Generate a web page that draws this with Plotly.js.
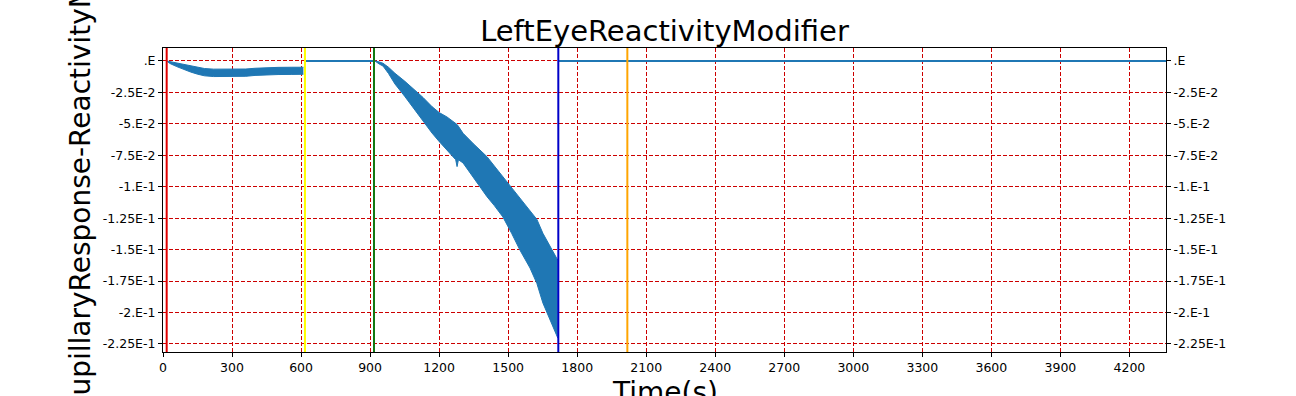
<!DOCTYPE html>
<html>
<head>
<meta charset="utf-8">
<script src="https://cdn.plot.ly/plotly-3.0.1.min.js"></script>
<style>html,body{margin:0;padding:0;background:#fff;}#chart{width:1296px;height:396px;}</style>
</head>
<body>
<div id="chart"></div>
<script>
// ---- data ----
const band1Time  = [16, 30, 60, 90, 120, 150, 180, 220, 300, 360, 400, 450, 500, 560, 610];
const band1Upper = [0, -0.0005, -0.0015, -0.0028, -0.0042, -0.0052, -0.006, -0.0065, -0.0066, -0.0064, -0.0058, -0.0052, -0.0051, -0.005, -0.005];
const band1Lower = [0, -0.002, -0.0045, -0.0068, -0.0088, -0.0105, -0.0118, -0.0124, -0.0125, -0.0122, -0.0115, -0.011, -0.0108, -0.0107, -0.0106];

const band2Time  = [917, 921, 940, 956, 980, 1008, 1050, 1095, 1130, 1169, 1200, 1234, 1260, 1272, 1278, 1284, 1304, 1350, 1408, 1440, 1477, 1515, 1551, 1595, 1625, 1651, 1680, 1712, 1716];
const band2Upper = [0, 0, -0.0008, -0.0018, -0.005, -0.0098, -0.016, -0.0231, -0.029, -0.0363, -0.041, -0.0445, -0.0482, -0.0495, -0.0505, -0.052, -0.0575, -0.066, -0.0761, -0.0835, -0.0920, -0.1005, -0.1091, -0.1185, -0.126, -0.1370, -0.147, -0.1582, -0.1585];
const band2Lower = [0, 0, -0.0025, -0.0040, -0.010, -0.0183, -0.028, -0.0390, -0.048, -0.0573, -0.064, -0.0707, -0.0761, -0.0785, -0.0840, -0.0785, -0.0811, -0.093, -0.1079, -0.115, -0.1240, -0.137, -0.1503, -0.1646, -0.177, -0.1924, -0.205, -0.2194, -0.2204];

const flat1Time = [617, 917];
const flat1Value = [0, 0];
const flat2Time = [1718, 4360];
const flat2Value = [0, 0];

const eventTimes  = [16, 617, 917, 1718, 2018];
const eventColors = ['#e00000', '#ffff00', '#137a13', '#0000c8', '#ffa500'];

const xTickVals = [0, 300, 600, 900, 1200, 1500, 1800, 2100, 2400, 2700, 3000, 3300, 3600, 3900, 4200];
const yTickVals = [0, -0.025, -0.05, -0.075, -0.1, -0.125, -0.15, -0.175, -0.2, -0.225];
const yTickText = ['.E', '-2.5E-2', '-5.E-2', '-7.5E-2', '-1.E-1', '-1.25E-1', '-1.5E-1', '-1.75E-1', '-2.E-1', '-2.25E-1'];

const titleText = 'LeftEyeReactivityModifier';
const xTitle = 'Time(s)';
const yTitle = 'PupillaryResponse-ReactivityModifier';

// ---- chart ----
const blue = '#1f77b4';
const FONT = 'DejaVu Sans, sans-serif';
function band(t, up, lo) {
  return [
    {x: t, y: lo, mode: 'lines', line: {color: blue, width: 1}, hoverinfo: 'skip', showlegend: false},
    {x: t, y: up, mode: 'lines', fill: 'tonexty', fillcolor: blue, line: {color: blue, width: 1}, hoverinfo: 'skip', showlegend: false}
  ];
}
const traces = [
  ...band(band1Time, band1Upper, band1Lower),
  {x: flat1Time, y: flat1Value, mode: 'lines', line: {color: blue, width: 2}, showlegend: false},
  ...band(band2Time, band2Upper, band2Lower),
  {x: flat2Time, y: flat2Value, mode: 'lines', line: {color: blue, width: 2}, showlegend: false},
  {x: [0], y: [0], yaxis: 'y2', mode: 'markers', marker: {opacity: 0}, showlegend: false, hoverinfo: 'skip'}
];

const shapes = eventTimes.map((t, i) => ({
  type: 'line', xref: 'x', yref: 'paper', x0: t, x1: t, y0: 0, y1: 1,
  line: {color: eventColors[i], width: 2}, layer: 'above'
}));

const yRange = [-0.2314, 0.0103];
const axisCommon = {
  showline: true, linecolor: '#000', linewidth: 1, mirror: true,
  ticks: 'outside', ticklen: 4, tickwidth: 1, tickcolor: '#000',
  showgrid: true, gridcolor: '#cc0000', gridwidth: 1, griddash: '4px,2px',
  zeroline: false, tickfont: {family: FONT, size: 12.5, color: '#000'}
};

const layout = {
  width: 1296, height: 396,
  margin: {l: 163, r: 130, t: 48, b: 44},
  paper_bgcolor: '#fff', plot_bgcolor: '#fff',
  showlegend: false,
  title: {text: titleText, font: {family: FONT, size: 29, color: '#000'}, x: 0.5, xanchor: 'center', xref: 'paper', y: 1 - 41/396, yanchor: 'bottom', yref: 'container'},
  xaxis: Object.assign({}, axisCommon, {
    range: [0, 4359], tickvals: xTickVals, ticktext: xTickVals.map(String)
  }),
  yaxis: Object.assign({}, axisCommon, {
    range: yRange, tickvals: yTickVals, ticktext: yTickText
  }),
  yaxis2: Object.assign({}, axisCommon, {
    overlaying: 'y', side: 'right', range: yRange, tickvals: yTickVals, ticktext: yTickText,
    showgrid: false, showline: false
  }),
  annotations: [{
    text: yTitle, textangle: -90, xref: 'paper', yref: 'paper',
    x: (80 - 163) / 1003, y: (352 - 154) / 304, xanchor: 'center', yanchor: 'middle',
    showarrow: false, font: {family: FONT, size: 28, color: '#000'}
  }, {
    text: xTitle, xref: 'paper', yref: 'paper',
    x: 0.5, y: (352 - 392) / 304, xanchor: 'center', yanchor: 'middle',
    showarrow: false, font: {family: FONT, size: 28, color: '#000'}
  }],
  shapes: shapes
};

Plotly.newPlot('chart', traces, layout, {staticPlot: true, displayModeBar: false});
</script>
</body>
</html>
